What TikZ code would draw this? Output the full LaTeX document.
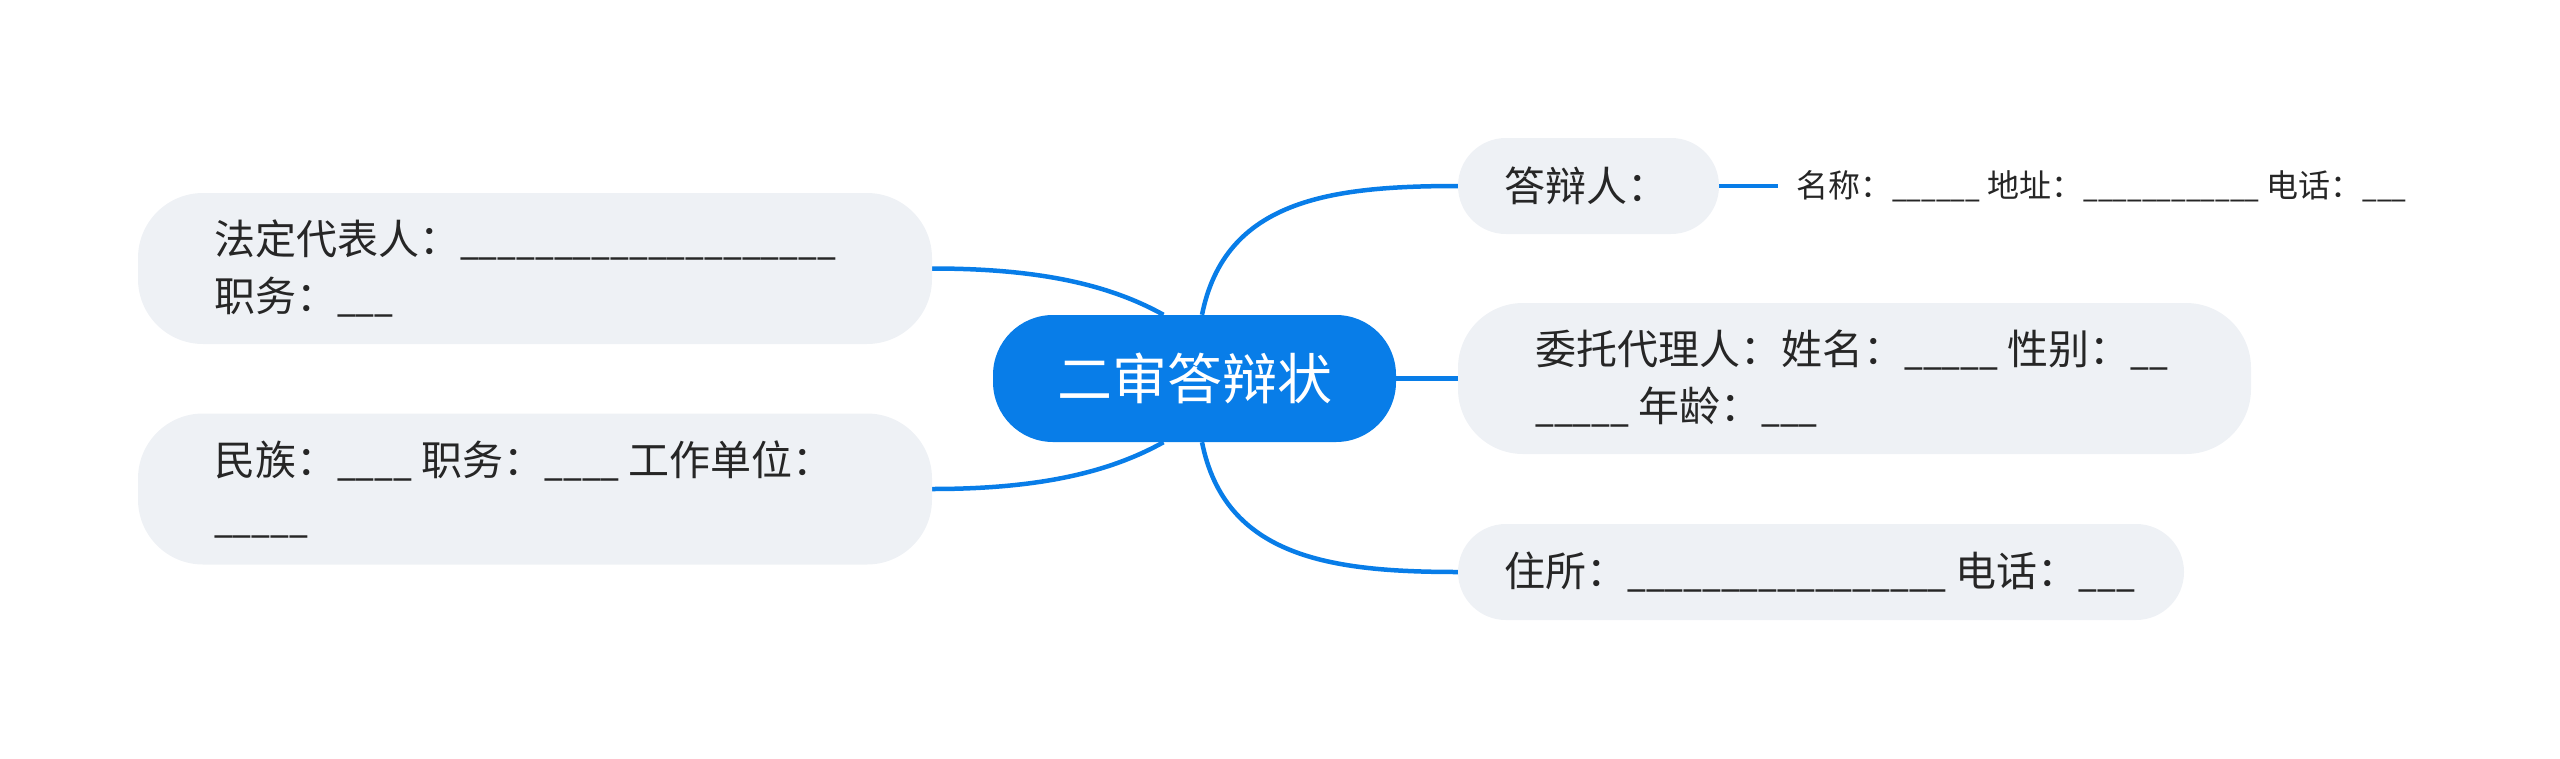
\documentclass[tikz,border=0pt]{standalone}
\usepackage{fontspec}
\setmainfont{Noto Sans CJK SC}
\newfontfamily\ulfont[FakeStretch=0.82]{Noto Sans CJK SC}
\newcommand\blank[1]{{\ulfont#1}}
\usetikzlibrary{backgrounds}
\definecolor{mainblue}{HTML}{087DE8}
\definecolor{boxfill}{HTML}{EEF1F5}
\definecolor{txtcol}{HTML}{262626}
\tikzset{
  pill/.style={fill=boxfill, draw=none, inner sep=0pt},
  hub/.style={fill=mainblue, draw=none, inner sep=0pt, text=white, font=\fontsize{55}{66}\selectfont},
  txt/.style={anchor=west, inner sep=0pt, align=left, text=txtcol, font=\fontsize{41}{57}\selectfont},
  subtxt/.style={anchor=west, inner ysep=0pt, inner xsep=18pt, text=txtcol, font=\fontsize{32}{40}\selectfont},
  link/.style={draw=mainblue, line width=4.5pt},
}
\begin{document}
\begin{tikzpicture}[x=1pt, y=-1pt]
\useasboundingbox (0,0) rectangle (2560,758);
% central
\node[hub, minimum width=403pt, minimum height=127pt, rounded corners=60pt] (c) at (1194.5,378.5) {二审答辩状};
% right side
\node[pill, minimum width=261pt, minimum height=96pt, rounded corners=47.9pt] (dbr) at (1588.5,186) {};
\node[txt] (dbrt) at (1504,186) {答辩人：};
\node[subtxt] (sub) at (1778,186) {名称：\blank{\_\_\_\_\_\_} 地址：\blank{\_\_\_\_\_\_\_\_\_\_\_\_} 电话：\blank{\_\_\_}};
\node[pill, minimum width=793pt, minimum height=151pt, rounded corners=65pt] (wt) at (1854.5,378.5) {};
\node[txt] (wtt) at (1535,378.5) {委托代理人：姓名：\blank{\_\_\_\_\_} 性别：\blank{\_\_}\\\blank{\_\_\_\_\_} 年龄：\blank{\_\_\_}};
\node[pill, minimum width=726pt, minimum height=96pt, rounded corners=47.9pt] (zs) at (1821,572) {};
\node[txt] (zst) at (1504,572) {住所：\blank{\_\_\_\_\_\_\_\_\_\_\_\_\_\_\_\_\_} 电话：\blank{\_\_\_}};
% left side
\node[pill, minimum width=794pt, minimum height=151pt, rounded corners=65pt] (fd) at (535,268.5) {};
\node[txt] (fdt) at (214,268.5) {法定代表人：\blank{\_\_\_\_\_\_\_\_\_\_\_\_\_\_\_\_\_\_\_\_}\\职务：\blank{\_\_\_}};
\node[pill, minimum width=794pt, minimum height=151pt, rounded corners=65pt] (mz) at (535,489) {};
\node[txt] (mzt) at (214,489) {民族：\blank{\_\_\_\_} 职务：\blank{\_\_\_\_} 工作单位：\\\blank{\_\_\_\_\_}};
% connectors
\begin{scope}[on background layer]
\draw[link] ([xshift=7.5pt]c.north) .. controls (1225,200) and (1330,186) .. (dbr.west);
\draw[link] ([xshift=7.5pt]c.south) .. controls (1225,557) and (1330,572) .. (zs.west);
\draw[link] (c.east) -- (wt.west);
\draw[link] (fd.east) .. controls (1040,268.5) and (1110,285) .. ([xshift=-31pt]c.north);
\draw[link] (mz.east) .. controls (1040,489) and (1110,472) .. ([xshift=-31pt]c.south);
\draw[link] (dbr.east) -- (sub.west);
\end{scope}
\end{tikzpicture}
\end{document}
